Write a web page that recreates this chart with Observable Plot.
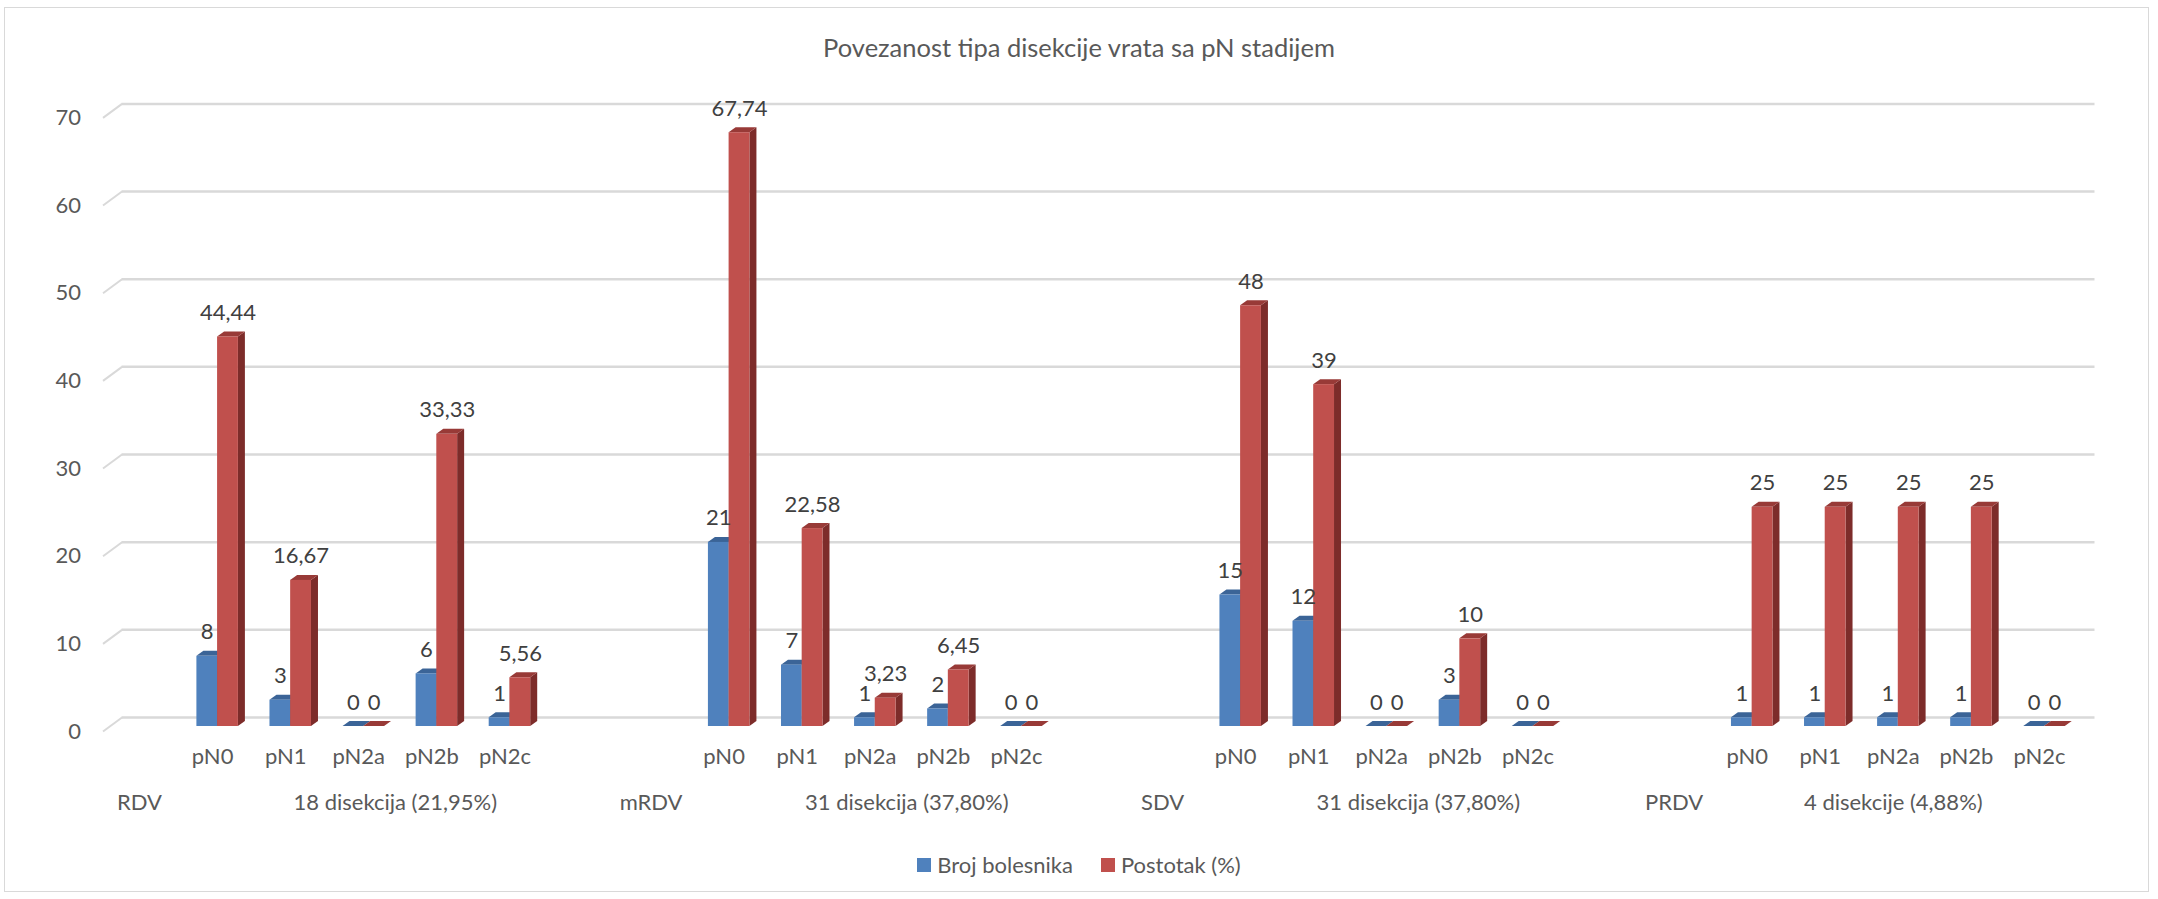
<!DOCTYPE html>
<html>
<head>
<meta charset="utf-8">
<script src="https://cdn.jsdelivr.net/npm/d3@7"></script>
<script src="https://cdn.jsdelivr.net/npm/@observablehq/plot@0.6"></script>
<style>
  html, body { margin: 0; padding: 0; background: #fff; }
  #wrap { position: relative; width: 2158px; height: 899px; overflow: hidden; font-family: Lato, "Open Sans", sans-serif; }
  #frame { position: absolute; left: 4px; top: 7px; width: 2145px; height: 885px; border: 1.5px solid #d9d9d9; box-sizing: border-box; }
  #title { position: absolute; left: 0; width: 2158px; top: 32px; text-align: center; font-size: 25.5px; line-height: 30px; color: #595959; }
  #chart { position: absolute; left: 0; top: 0; }
  #legend { position: absolute; left: 0; width: 2158px; top: 851px; display: flex; justify-content: center; align-items: center; font-size: 22px; line-height: 28px; color: #595959; }
  #legend .item { display: flex; align-items: center; margin: 0 14px; }
  #legend .sw { width: 14px; height: 14px; margin-right: 6px; }
</style>
</head>
<body>
<div id="wrap">
  <div id="frame"></div>
  <div id="chart"></div>
  <div id="title"></div>
  <div id="legend"></div>
</div>
<script>
// ---- data ----
const chartTitle = "Povezanost tipa disekcije vrata sa pN stadijem";
const groups = ["RDV", "mRDV", "SDV", "PRDV"];
const groupNotes = ["18 disekcija (21,95%)", "31 disekcija (37,80%)", "31 disekcija (37,80%)", "4 disekcije (4,88%)"];
const stages = ["pN0", "pN1", "pN2a", "pN2b", "pN2c"];
const seriesNames = ["Broj bolesnika", "Postotak (%)"];
const brojBolesnika = [
  [8, 3, 0, 6, 1],
  [21, 7, 1, 2, 0],
  [15, 12, 0, 3, 0],
  [1, 1, 1, 1, 0]
];
const postotak = [
  [44.44, 16.67, 0, 33.33, 5.56],
  [67.74, 22.58, 3.23, 6.45, 0],
  [48, 39, 0, 10, 0],
  [25, 25, 25, 25, 0]
];
const yTicks = [0, 10, 20, 30, 40, 50, 60, 70];

// ---- styling ----
const frontColors = ["#4f81bd", "#c0504d"];
const topColors = ["#3b6497", "#983a37"];
const sideColors = ["#2f5079", "#7d2c2a"];

// ---- layout (category slots: label slot, 5 stages, blank) ----
const W = 2158, SVG_H = 840;
const mLeft = 102.5, mRight = 82.5, mTop = 117.4, floorY = 731;
const slotsPerGroup = stages.length + 2;
const nSlots = groups.length * slotsPerGroup - 1;
const slotPx = (W - mLeft - mRight) / nSlots;
const unitPx = (floorY - mTop) / 70;
const barOff = [0.285, 0.568, 0.853];
const depthX = 7 / slotPx, depthY = 5 / unitPx;        // bar depth
const wallX = 19 / slotPx, wallY = 14 / unitPx;        // back wall offset
const fmt = v => String(v).replace(".", ",");

const series = [brojBolesnika, postotak];
const bars = [];
groups.forEach((g, gi) => {
  stages.forEach((s, si) => {
    const slot = gi * slotsPerGroup + 1 + si;
    series.forEach((arr, k) => {
      bars.push({id: `${g}-${s}-${k}`, k, v: arr[gi][si], x1: slot + barOff[k], x2: slot + barOff[k + 1]});
    });
  });
});

// polygons for the 3D faces
const sidePts = [], topPts = [];
bars.forEach(b => {
  sidePts.push({id: b.id, k: b.k, x: b.x2, y1: 0, y2: b.v});
  sidePts.push({id: b.id, k: b.k, x: b.x2 + depthX, y1: depthY, y2: b.v + depthY});
  topPts.push({id: b.id, k: b.k, x: b.x1, y1: b.v, y2: b.v});
  topPts.push({id: b.id, k: b.k, x: b.x1 + depthX, y1: b.v, y2: b.v + depthY});
  topPts.push({id: b.id, k: b.k, x: b.x2, y1: b.v, y2: b.v + depthY});
  topPts.push({id: b.id, k: b.k, x: b.x2 + depthX, y1: b.v + depthY, y2: b.v + depthY});
});

const stageLabels = [];
const groupLabels = [];
groups.forEach((g, gi) => {
  const start = gi * slotsPerGroup;
  groupLabels.push({x: start + 0.5, text: g});
  const end = Math.min(start + slotsPerGroup, nSlots);
  groupLabels.push({x: (start + 1 + end) / 2, text: groupNotes[gi]});
  stages.forEach((s, si) => stageLabels.push({x: start + 1 + si + 0.5, text: s}));
});

const marks = [
  Plot.ruleY(yTicks, {x1: 0, x2: nSlots, dx: 19, dy: -14, stroke: "#d9d9d9", strokeWidth: 2.5}),
  Plot.link(yTicks, {x1: 0, y1: d => d, x2: wallX, y2: d => d + wallY, stroke: "#d9d9d9", strokeWidth: 2}),
  Plot.axisY({ticks: yTicks, tickSize: 0, tickPadding: 22, label: null, fill: "#595959"})
];
[0, 1].forEach(k => {
  marks.push(
    Plot.areaY(sidePts.filter(d => d.k === k), {x: "x", y1: "y1", y2: "y2", z: "id", fill: sideColors[k], dy: -5}),
    Plot.areaY(topPts.filter(d => d.k === k), {x: "x", y1: "y1", y2: "y2", z: "id", fill: topColors[k], dy: -5}),
    Plot.rect(bars.filter(d => d.k === k), {x1: "x1", x2: "x2", y1: 0, y2: "v", fill: frontColors[k], dy: -5})
  );
});
marks.push(
  Plot.text(bars, {x: d => (d.x1 + d.x2) / 2, y: "v", text: d => fmt(d.v), dy: -29, fill: "#404040"}),
  Plot.text(stageLabels, {x: "x", text: "text", frameAnchor: "bottom", dy: 32, fill: "#595959"}),
  Plot.text(groupLabels, {x: "x", text: "text", frameAnchor: "bottom", dy: 78, fill: "#595959"})
);

const chart = Plot.plot({
  width: W,
  height: SVG_H,
  marginLeft: mLeft,
  marginRight: mRight,
  marginTop: mTop,
  marginBottom: SVG_H - floorY,
  x: {domain: [0, nSlots], axis: null},
  y: {domain: [0, 70], axis: null},
  style: {fontFamily: "Lato, 'Open Sans', sans-serif", fontSize: "22px", background: "transparent", overflow: "visible"},
  marks
});
document.getElementById("chart").appendChild(chart);
document.getElementById("title").textContent = chartTitle;

const legend = document.getElementById("legend");
seriesNames.forEach((name, k) => {
  const item = document.createElement("div");
  item.className = "item";
  const sw = document.createElement("div");
  sw.className = "sw";
  sw.style.background = frontColors[k];
  const lab = document.createElement("span");
  lab.textContent = name;
  item.appendChild(sw);
  item.appendChild(lab);
  legend.appendChild(item);
});
</script>
</body>
</html>
